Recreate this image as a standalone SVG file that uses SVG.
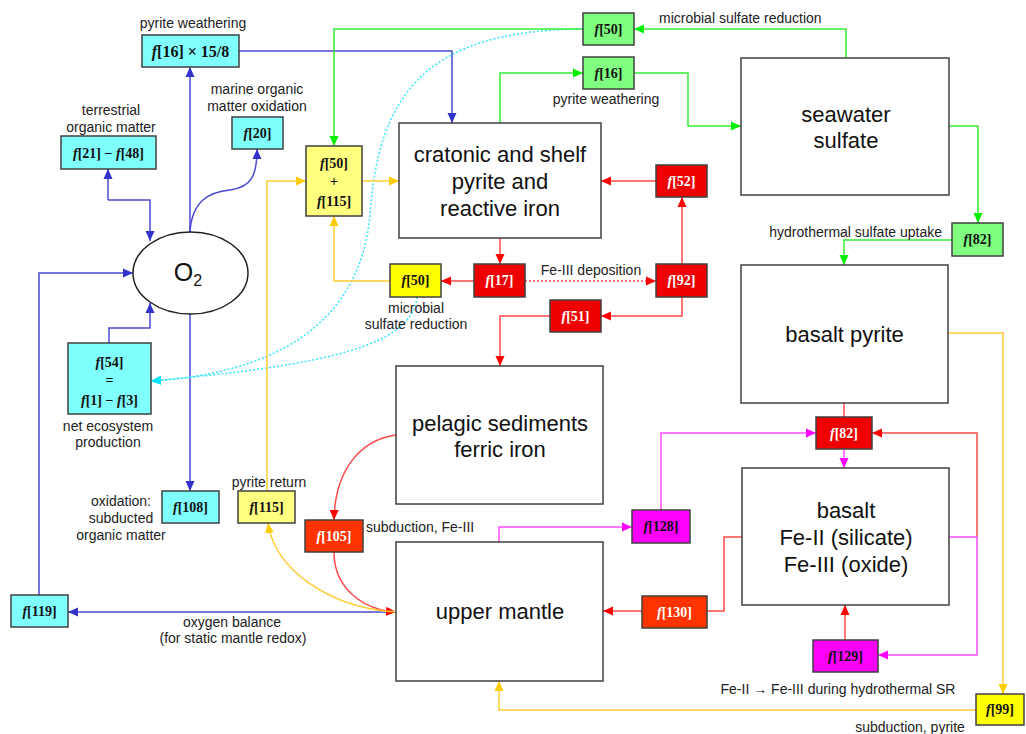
<svg xmlns="http://www.w3.org/2000/svg" width="1026" height="734" viewBox="0 0 1026 734">
<style>
.bx{stroke:#404040;stroke-width:1.5}
.big{fill:#fff;stroke:#404040;stroke-width:1.5}
.bt{font-family:"Liberation Sans",Arial,sans-serif;font-size:22px;fill:#111;text-anchor:middle}
.lb{font-family:"Liberation Sans",Arial,sans-serif;font-size:14px;fill:#222;text-anchor:middle}
.ls{text-anchor:start}
.le{text-anchor:end}
.ft{font-family:"Liberation Serif","Times New Roman",serif;font-size:14px;font-weight:bold;fill:#111;text-anchor:middle}
.fw{fill:#fff}
.i{font-style:italic}
.cy{fill:#80ffff}.gr{fill:#80ff80}.ye{fill:#ffff80}.yb{fill:#ffff00}.rd{fill:#ee0000}.or{fill:#ff3300}.mg{fill:#ff00ff}
#connectors path{fill:none;stroke-width:1.5}
.b{stroke:#4a4ad0}.g{stroke:#33ee33}.r{stroke:#ff4a4a}.m{stroke:#ff4aff}.y{stroke:#ffcc33}.c{stroke:#33e5ff;stroke-dasharray:2,2}.rdot{stroke-dasharray:2,2}
</style>
<defs>
<marker id="ab" viewBox="0 0 10 10" refX="10" refY="5" markerWidth="10" markerHeight="10" markerUnits="userSpaceOnUse" orient="auto"><path d="M0,0.5L10,5L0,9.5z" fill="#3333cc"/></marker>
<marker id="ag" viewBox="0 0 10 10" refX="10" refY="5" markerWidth="10" markerHeight="10" markerUnits="userSpaceOnUse" orient="auto"><path d="M0,0.5L10,5L0,9.5z" fill="#00ee00"/></marker>
<marker id="ar" viewBox="0 0 10 10" refX="10" refY="5" markerWidth="10" markerHeight="10" markerUnits="userSpaceOnUse" orient="auto"><path d="M0,0.5L10,5L0,9.5z" fill="#ff0000"/></marker>
<marker id="am" viewBox="0 0 10 10" refX="10" refY="5" markerWidth="10" markerHeight="10" markerUnits="userSpaceOnUse" orient="auto"><path d="M0,0.5L10,5L0,9.5z" fill="#ff00ff"/></marker>
<marker id="ay" viewBox="0 0 10 10" refX="10" refY="5" markerWidth="10" markerHeight="10" markerUnits="userSpaceOnUse" orient="auto"><path d="M0,0.5L10,5L0,9.5z" fill="#ffcc00"/></marker>
<marker id="ac" viewBox="0 0 10 10" refX="10" refY="5" markerWidth="10" markerHeight="10" markerUnits="userSpaceOnUse" orient="auto"><path d="M0,0.5L10,5L0,9.5z" fill="#00e5ff"/></marker>
</defs>
<rect width="1026" height="734" fill="#fff"/>

<g id="connectors">
<path class="b" d="M190,232V67" marker-end="url(#ab)"/>
<path class="b" d="M239,51H452V123" marker-end="url(#ab)"/>
<path class="b" d="M190,232C192,200 210,192 230,190C252,187 257,175 257,149" marker-end="url(#ab)"/>
<path class="b" d="M108,200V169" marker-end="url(#ab)"/>
<path class="b" d="M108,200H150V241" marker-end="url(#ab)"/>
<path class="b" d="M109,343V328H150V303" marker-end="url(#ab)"/>
<path class="b" d="M190,314V491" marker-end="url(#ab)"/>
<path class="b" d="M39,595V273H133" marker-end="url(#ab)"/>
<path class="b" d="M396,612H68" marker-end="url(#ab)"/>
<path class="c" d="M583,29C420,30 378,100 370,215C362,305 300,372 151,381" marker-end="url(#ac)"/>
<path class="c" d="M417,297C412,345 330,365 151,381" marker-end="url(#ac)"/>
<path class="g" d="M846,58V29H634" marker-end="url(#ag)"/>
<path class="g" d="M583,29H334V146" marker-end="url(#ag)"/>
<path class="g" d="M500,123V73H583" marker-end="url(#ag)"/>
<path class="g" d="M634,73H688V126H741" marker-end="url(#ag)"/>
<path class="g" d="M949,126H978V223" marker-end="url(#ag)"/>
<path class="g" d="M952,240H844V265" marker-end="url(#ag)"/>
<path class="r" d="M656,181H601" marker-end="url(#ar)"/>
<path class="r" d="M682,264V197" marker-end="url(#ar)"/>
<path class="r" d="M500,238V264" marker-end="url(#ar)"/>
<path class="r" d="M474,281H441" marker-end="url(#ar)"/>
<path class="r rdot" d="M525,281H656" marker-end="url(#ar)"/>
<path class="r" d="M682,297V316H601" marker-end="url(#ar)"/>
<path class="r" d="M550,316H500V366" marker-end="url(#ar)"/>
<path class="r" d="M396,435C360,440 335,470 334,520" marker-end="url(#ar)"/>
<path class="r" d="M334,552C334,590 365,610 396,612" marker-end="url(#ar)"/>
<path class="r" d="M844,403V417"/>
<path class="r" d="M977,537V433H872" marker-end="url(#ar)"/>
<path class="r" d="M845,640V605" marker-end="url(#ar)"/>
<path class="r" d="M742,537H724V611H707"/>
<path class="r" d="M642,611H603" marker-end="url(#ar)"/>
<path class="m" d="M844,449V468" marker-end="url(#am)"/>
<path class="m" d="M949,537H977V655H878" marker-end="url(#am)"/>
<path class="m" d="M499,542V527H632" marker-end="url(#am)"/>
<path class="m" d="M661,510V433H816" marker-end="url(#am)"/>
<path class="y" d="M390,281H334V216" marker-end="url(#ay)"/>
<path class="y" d="M362,181H399" marker-end="url(#ay)"/>
<path class="y" d="M267,491V181H306" marker-end="url(#ay)"/>
<path class="y" d="M396,612C330,608 275,570 268,523" marker-end="url(#ay)"/>
<path class="y" d="M948,333H1003V694" marker-end="url(#ay)"/>
<path class="y" d="M976,710H499V681" marker-end="url(#ay)"/>
</g>

<g id="n-cratonic"><rect class="big" x="399" y="123" width="202" height="115"/>
<text class="bt" x="500" y="162">cratonic and shelf</text><text class="bt" x="500" y="189">pyrite and</text><text class="bt" x="500" y="216">reactive iron</text></g>
<g id="n-seawater"><rect class="big" x="741" y="58" width="208" height="137"/>
<text class="bt" x="846" y="122">seawater</text><text class="bt" x="846" y="148">sulfate</text></g>
<g id="n-basaltpyrite"><rect class="big" x="741" y="265" width="207" height="138"/>
<text class="bt" x="844.5" y="342">basalt pyrite</text></g>
<g id="n-basaltfe"><rect class="big" x="742" y="468" width="207" height="137"/>
<text class="bt" x="846" y="518">basalt</text><text class="bt" x="846" y="545">Fe-II (silicate)</text><text class="bt" x="846" y="572">Fe-III (oxide)</text></g>
<g id="n-pelagic"><rect class="big" x="396" y="366" width="207" height="138"/>
<text class="bt" x="500" y="431">pelagic sediments</text><text class="bt" x="500" y="457">ferric iron</text></g>
<g id="n-mantle"><rect class="big" x="396" y="542" width="207" height="139"/>
<text class="bt" x="500" y="619">upper mantle</text></g>
<g id="n-o2"><ellipse cx="190.5" cy="273" rx="57.5" ry="41" fill="#fff" stroke="#222" stroke-width="1.5"/>
<text class="bt" x="188" y="281" style="font-size:25px">O<tspan style="font-size:16px" dy="5">2</tspan></text></g>

<g id="n-f16x"><rect class="bx cy" x="142" y="35" width="97" height="32"/>
<text class="ft" x="190.5" y="57" style="font-size:16px"><tspan class="i">f</tspan>[16] × 15/8</text>
<text class="lb" x="193" y="28">pyrite weathering</text></g>
<g id="n-f20"><rect class="bx cy" x="232" y="117" width="51" height="32"/>
<text class="ft" x="257.5" y="138"><tspan class="i">f</tspan>[20]</text>
<text class="lb" x="257" y="94">marine organic</text><text class="lb" x="257" y="111">matter oxidation</text></g>
<g id="n-f21"><rect class="bx cy" x="61" y="136" width="95" height="33"/>
<text class="ft" x="108.5" y="158"><tspan class="i">f</tspan>[21] − <tspan class="i">f</tspan>[48]</text>
<text class="lb" x="111" y="115">terrestrial</text><text class="lb" x="111" y="132">organic matter</text></g>
<g id="n-f54"><rect class="bx cy" x="68" y="343" width="83" height="71"/>
<text class="ft" x="109.5" y="367"><tspan class="i">f</tspan>[54]</text>
<text class="ft" x="109.5" y="385">=</text>
<text class="ft" x="109.5" y="405"><tspan class="i">f</tspan>[1] − <tspan class="i">f</tspan>[3]</text>
<text class="lb" x="108" y="431">net ecosystem</text><text class="lb" x="108" y="447">production</text></g>
<g id="n-f108"><rect class="bx cy" x="162" y="491" width="57" height="32"/>
<text class="ft" x="190.5" y="512"><tspan class="i">f</tspan>[108]</text>
<text class="lb" x="121" y="506">oxidation:</text><text class="lb" x="121" y="523">subducted</text><text class="lb" x="121" y="540">organic matter</text></g>
<g id="n-f115"><rect class="bx ye" x="238" y="491" width="57" height="32"/>
<text class="ft" x="266.5" y="512"><tspan class="i">f</tspan>[115]</text>
<text class="lb" x="269" y="487">pyrite return</text></g>
<g id="n-f119"><rect class="bx cy" x="11" y="595" width="57" height="32"/>
<text class="ft" x="39.5" y="616"><tspan class="i">f</tspan>[119]</text>
<text class="lb" x="232" y="627">oxygen balance</text><text class="lb" x="233" y="643">(for static mantle redox)</text></g>
<g id="n-f105"><rect class="bx or" x="305" y="520" width="58" height="32"/>
<text class="ft fw" x="334" y="541"><tspan class="i">f</tspan>[105]</text>
<text class="lb ls" x="366" y="532">subduction, Fe-III</text></g>
<g id="n-f50f115"><rect class="bx ye" x="306" y="146" width="56" height="70"/>
<text class="ft" x="334" y="168"><tspan class="i">f</tspan>[50]</text>
<text class="ft" x="334" y="186">+</text>
<text class="ft" x="334" y="206"><tspan class="i">f</tspan>[115]</text></g>
<g id="n-f50y"><rect class="bx yb" x="390" y="264" width="51" height="33"/>
<text class="ft" x="415.5" y="285"><tspan class="i">f</tspan>[50]</text>
<text class="lb" x="416" y="313">microbial</text><text class="lb" x="416" y="329">sulfate reduction</text></g>
<g id="n-f17"><rect class="bx rd" x="474" y="264" width="51" height="33"/>
<text class="ft fw" x="499.5" y="285"><tspan class="i">f</tspan>[17]</text>
<text class="lb" x="591" y="275">Fe-III deposition</text></g>
<g id="n-f92"><rect class="bx rd" x="656" y="264" width="51" height="33"/>
<text class="ft fw" x="681.5" y="285"><tspan class="i">f</tspan>[92]</text></g>
<g id="n-f51"><rect class="bx rd" x="550" y="300" width="51" height="32"/>
<text class="ft fw" x="575.5" y="321"><tspan class="i">f</tspan>[51]</text></g>
<g id="n-f52"><rect class="bx rd" x="656" y="165" width="51" height="32"/>
<text class="ft fw" x="681.5" y="186"><tspan class="i">f</tspan>[52]</text></g>
<g id="n-f50g"><rect class="bx gr" x="583" y="13" width="51" height="32"/>
<text class="ft" x="608.5" y="34"><tspan class="i">f</tspan>[50]</text>
<text class="lb ls" x="659" y="23">microbial sulfate reduction</text></g>
<g id="n-f16g"><rect class="bx gr" x="583" y="57" width="51" height="32"/>
<text class="ft" x="608.5" y="78"><tspan class="i">f</tspan>[16]</text>
<text class="lb" x="606" y="104">pyrite weathering</text></g>
<g id="n-f82g"><rect class="bx gr" x="952" y="223" width="51" height="33"/>
<text class="ft" x="977.5" y="244"><tspan class="i">f</tspan>[82]</text>
<text class="lb le" x="942" y="237">hydrothermal sulfate uptake</text></g>
<g id="n-f82r"><rect class="bx rd" x="816" y="417" width="56" height="32"/>
<text class="ft fw" x="844" y="438"><tspan class="i">f</tspan>[82]</text></g>
<g id="n-f128"><rect class="bx mg" x="632" y="510" width="58" height="33"/>
<text class="ft" x="661" y="531"><tspan class="i">f</tspan>[128]</text></g>
<g id="n-f130"><rect class="bx or" x="642" y="596" width="65" height="32"/>
<text class="ft fw" x="674.5" y="617"><tspan class="i">f</tspan>[130]</text></g>
<g id="n-f129"><rect class="bx mg" x="813" y="640" width="65" height="32"/>
<text class="ft" x="845.5" y="661"><tspan class="i">f</tspan>[129]</text>
<text class="lb" x="838" y="694">Fe-II → Fe-III during hydrothermal SR</text></g>
<g id="n-f99"><rect class="bx yb" x="976" y="694" width="48" height="31"/>
<text class="ft" x="1000" y="714"><tspan class="i">f</tspan>[99]</text>
<text class="lb" x="910" y="732">subduction, pyrite</text></g>
</svg>
